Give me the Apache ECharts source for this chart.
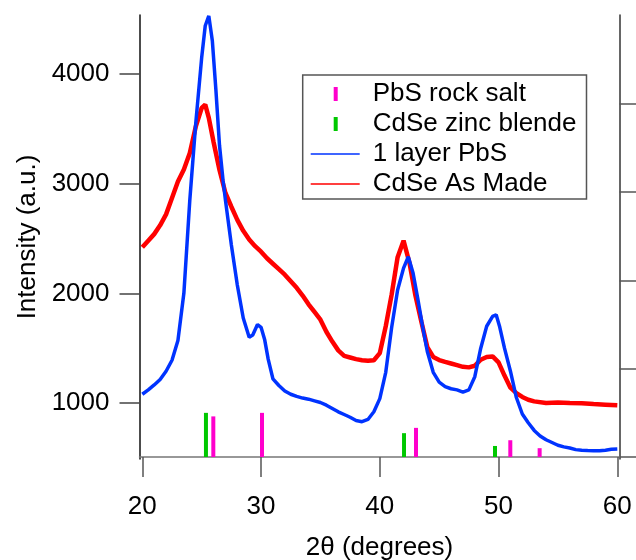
<!DOCTYPE html>
<html>
<head>
<meta charset="utf-8">
<script src="https://cdn.jsdelivr.net/npm/echarts@6/dist/echarts.min.js"></script>
<style>
  html, body { margin: 0; padding: 0; background: #fff; }
  #main { width: 636px; height: 560px; }
</style>
</head>
<body>
<div id="main"></div>
<script>
// 2theta positions / intensities
var xTicks = [20, 30, 40, 50, 60];
var yTicks = [1000, 2000, 3000, 4000];
var rightTicks = [0, 1, 2, 3, 4];

var pbsLayer = [
  [20.0, 1080], [20.5, 1120], [21.0, 1165], [21.5, 1215], [22.0, 1290], [22.5, 1390],
  [23.0, 1570], [23.5, 2000], [24.0, 2850], [24.5, 3550], [25.0, 4150], [25.3, 4440],
  [25.6, 4530], [25.9, 4300], [26.2, 3850], [26.5, 3350], [26.8, 3030], [27.0, 2850],
  [27.5, 2440], [28.0, 2076], [28.5, 1775], [29.0, 1600], [29.3, 1620], [29.7, 1715],
  [30.0, 1690], [30.3, 1580], [30.6, 1400], [31.0, 1220], [31.5, 1160], [32.0, 1110],
  [32.5, 1080], [33.0, 1060], [33.5, 1045], [34.0, 1035], [34.5, 1020], [35.0, 1005],
  [35.5, 980], [36.0, 950], [36.5, 920], [37.0, 895], [37.5, 870], [38.0, 840],
  [38.5, 830], [39.0, 850], [39.5, 920], [40.0, 1040], [40.5, 1280], [41.0, 1690],
  [41.5, 2030], [42.0, 2230], [42.4, 2334], [42.8, 2185], [43.2, 1950], [43.6, 1700],
  [44.0, 1470], [44.5, 1280], [45.0, 1190], [45.5, 1150], [46.0, 1130], [46.5, 1120],
  [47.0, 1100], [47.5, 1120], [48.0, 1240], [48.5, 1500], [49.0, 1700], [49.5, 1790],
  [49.8, 1805], [50.1, 1693], [50.5, 1500], [51.0, 1290], [51.5, 1050], [52.0, 900],
  [52.5, 820], [53.0, 750], [53.5, 700], [54.0, 665], [54.5, 640], [55.0, 615],
  [55.5, 600], [56.0, 590], [56.5, 575], [57.0, 570], [57.5, 567], [58.0, 565],
  [58.5, 565], [59.0, 570], [59.5, 578], [60.0, 580]
];

var cdseMade = [
  [20.0, 2420], [20.5, 2480], [21.0, 2540], [21.5, 2620], [22.0, 2720], [22.5, 2870],
  [23.0, 3020], [23.5, 3130], [24.0, 3280], [24.5, 3520], [25.0, 3690], [25.3, 3720],
  [25.6, 3600], [26.0, 3380], [26.5, 3125], [27.0, 2915], [27.5, 2790], [28.0, 2670],
  [28.5, 2570], [29.0, 2490], [29.5, 2430], [30.0, 2380], [30.5, 2320], [31.0, 2270],
  [31.5, 2220], [32.0, 2170], [32.5, 2110], [33.0, 2050], [33.5, 1980], [34.0, 1900],
  [34.5, 1830], [35.0, 1760], [35.5, 1650], [36.0, 1560], [36.5, 1480], [37.0, 1430],
  [37.5, 1415], [38.0, 1400], [38.5, 1390], [39.0, 1385], [39.5, 1390], [40.0, 1455],
  [40.5, 1700], [41.0, 1990], [41.5, 2330], [42.0, 2480], [42.5, 2277], [43.0, 1980],
  [43.5, 1740], [44.0, 1510], [44.5, 1420], [45.0, 1392], [45.5, 1375], [46.0, 1360],
  [46.5, 1345], [47.0, 1330], [47.5, 1325], [48.0, 1340], [48.5, 1395], [49.0, 1420],
  [49.5, 1425], [50.0, 1370], [50.5, 1250], [51.0, 1140], [51.5, 1090], [52.0, 1055],
  [52.5, 1030], [53.0, 1015], [54.0, 1000], [55.0, 1005], [56.0, 1000], [57.0, 998],
  [58.0, 990], [59.0, 985], [60.0, 980]
];

// reference sticks (right axis units)
var pbsSticks = [[25.98, 0.46], [30.08, 0.5], [43.05, 0.33], [50.99, 0.19], [53.46, 0.1]];
var cdseSticks = [[25.36, 0.5], [42.04, 0.27], [49.7, 0.125]];

var font = 'Liberation Sans, Arial, Helvetica, sans-serif';
var stickIcon = 'path://M0,0L0,0.1M57,14L57,13.9M23,0L27,0L27,14L23,14Z';
var lineIcon = 'path://M0,0L0,0.1M57,14L57,13.9M0,6.3L49,6.3L49,7.7L0,7.7Z';

var chart = echarts.init(document.getElementById('main'), null, { renderer: 'canvas' });

var option = {
  animation: false,
  backgroundColor: '#fff',
  textStyle: { fontFamily: font },
  grid: { left: 139.5, right: 16.5, top: 15, bottom: 101, outerBoundsMode: 'none', containLabel: false },
  legend: {
    orient: 'vertical',
    left: 302.7,
    top: 75,
    padding: [4, 10, 0, 8],
    itemGap: 0,
    itemWidth: 57,
    itemHeight: 14,
    borderColor: '#555',
    borderWidth: 1.5,
    selectedMode: false,
    itemStyle: { borderWidth: 0 },
    textStyle: { fontSize: 26, color: '#000', lineHeight: 30, fontFamily: font },
    data: [
      { name: 'PbS rock salt', icon: stickIcon },
      { name: 'CdSe zinc blende', icon: stickIcon },
      { name: '1 layer PbS', icon: lineIcon },
      { name: 'CdSe As Made', icon: lineIcon }
    ]
  },
  xAxis: {
    type: 'value',
    min: 19.764,
    max: 60.185,
    axisLine: { show: true, lineStyle: { color: '#777', width: 1.5 } },
    axisTick: { show: true, customValues: xTicks, length: 20, lineStyle: { color: '#555', width: 1.5 } },
    axisLabel: { customValues: xTicks, margin: 35, fontSize: 26, color: '#000', fontFamily: font },
    splitLine: { show: false },
    name: '2θ (degrees)',
    nameLocation: 'middle',
    nameGap: 76,
    nameTextStyle: { fontSize: 26, color: '#000', fontFamily: font }
  },
  yAxis: [
    {
      type: 'value',
      position: 'left',
      min: 489.5,
      max: 4538,
      axisLine: { show: true, lineStyle: { color: '#111', width: 1.5 } },
      axisTick: { show: true, customValues: yTicks, length: 20, lineStyle: { color: '#444', width: 1.5 } },
      axisLabel: {
        customValues: yTicks, margin: 30, fontSize: 26, color: '#000', fontFamily: font,
        formatter: function (v) { return String(v); }
      },
      splitLine: { show: false },
      name: 'Intensity (a.u.)',
      nameLocation: 'middle',
      nameGap: 96,
      nameTextStyle: { fontSize: 26, color: '#000', fontFamily: font }
    },
    {
      type: 'value',
      position: 'right',
      min: -0.0226,
      max: 5.006,
      axisLine: { show: true, lineStyle: { color: '#333', width: 1.5 } },
      axisTick: { show: true, customValues: rightTicks, length: 20, lineStyle: { color: '#555', width: 1.5 } },
      axisLabel: { show: false },
      splitLine: { show: false }
    }
  ],
  series: [
    {
      name: 'PbS rock salt',
      type: 'bar',
      yAxisIndex: 1,
      barWidth: 4,
      barGap: '-100%',
      itemStyle: { color: '#ff00cc' },
      data: pbsSticks
    },
    {
      name: 'CdSe zinc blende',
      type: 'bar',
      yAxisIndex: 1,
      barWidth: 4,
      barGap: '-100%',
      itemStyle: { color: '#00c800' },
      data: cdseSticks
    },
    {
      name: 'CdSe As Made',
      type: 'line',
      showSymbol: false,
      lineStyle: { color: '#ff0000', width: 4.5 },
      itemStyle: { color: '#ff0000' },
      data: cdseMade,
      z: 2
    },
    {
      name: '1 layer PbS',
      type: 'line',
      showSymbol: false,
      lineStyle: { color: '#0033ff', width: 3.5 },
      itemStyle: { color: '#0033ff' },
      data: pbsLayer,
      z: 3
    }
  ]
};

chart.setOption(option);
</script>
</body>
</html>
